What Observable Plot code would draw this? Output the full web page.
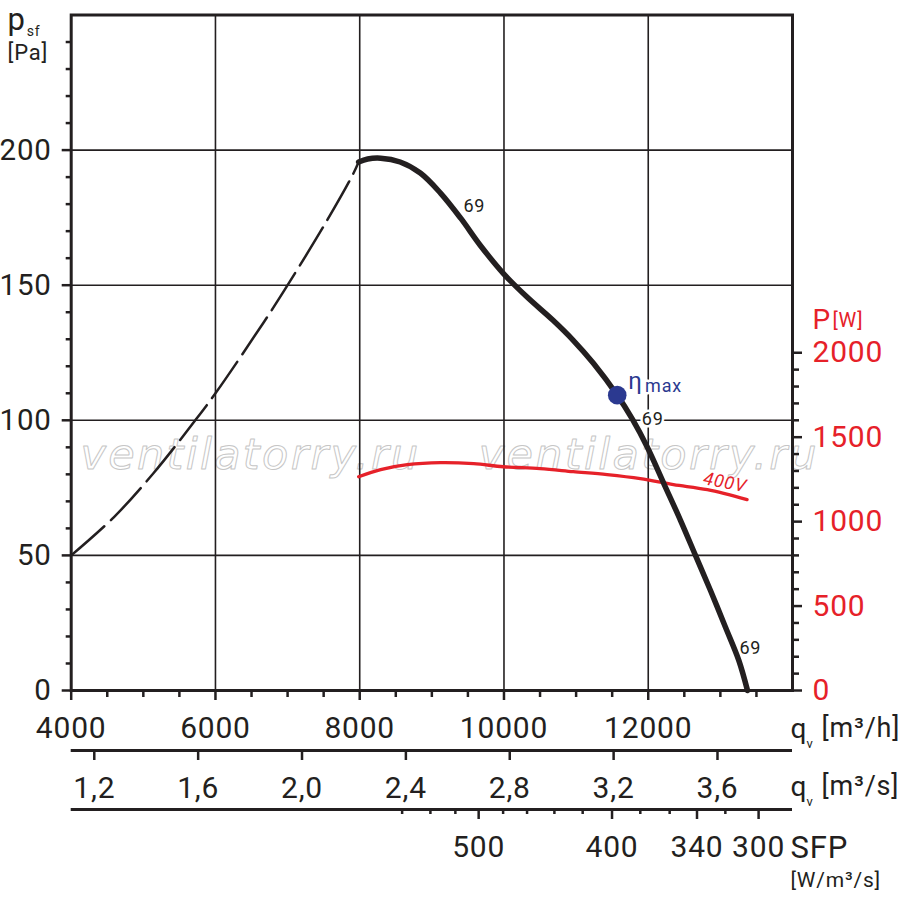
<!DOCTYPE html>
<html><head><meta charset="utf-8">
<script src="https://cdn.jsdelivr.net/npm/d3@7"></script>
<script src="https://cdn.jsdelivr.net/npm/@observablehq/plot@0.6"></script>
<style>
body{margin:0;background:#fff}
svg{display:block}
svg text{letter-spacing:0.8px}
</style>
</head><body><div id="chart"></div>
<script>
// ---- data ----
const qSolid = [7985, 8110, 8290, 8560, 8840, 9120, 9400, 9670, 9990, 10320, 10680, 10960, 11240, 11570, 11780, 11986, 12216, 12447, 12655, 12863, 13071, 13256, 13376];
const pSolid = [195.6, 196.7, 197.0, 195.6, 191.5, 184.1, 174.8, 164.8, 154.4, 145.6, 137.0, 129.6, 121.1, 109.3, 100.4, 90.1, 76.6, 63.0, 50.0, 37.0, 23.4, 11.1, 0];
const qDash = [4000, 4590, 5140, 5720, 6000, 6670, 7000, 7550, 7900, 7985];
const pDash = [50, 64.1, 80.4, 100, 110, 136.3, 150, 174.1, 190.7, 195.6];
const qPower = [7985, 8290, 8660, 9120, 9580, 9990, 10500, 10960, 11430, 11890, 12350, 12820, 13370];
const wPower = [1266, 1308, 1337, 1349, 1343, 1325, 1314, 1296, 1278, 1254, 1219, 1189, 1130];
const etaMax = {q: 11570, p: 109.3};
const curveLabels = [{q: 9589, p: 179.3, t: "69"}, {q: 12063, p: 100.4, t: "69"}, {q: 13415, p: 15.6, t: "69"}];
const watermarks = [{q: 4129, p: 82.0, t: "ventilatorry.ru"}, {q: 9651, p: 82.0, t: "ventilatorry.ru"}];

const qGrid = [6000, 8000, 10000, 12000];
const pGrid = [50, 100, 150, 200];
const qTicksMajor = [4000, 6000, 8000, 10000, 12000];
const qTicksMinor = [4500, 5000, 5500, 6500, 7000, 7500, 8500, 9000, 9500, 10500, 11000, 11500, 12500, 13000, 13500];
const pTicksMajor = [0, 50, 100, 150, 200];
const pTicksMinor = [10, 20, 30, 40, 60, 70, 80, 90, 110, 120, 130, 140, 160, 170, 180, 190, 210, 220, 230, 240];
const wTicksMajor = [0, 500, 1000, 1500, 2000];
const wTicksMinor = [100, 200, 300, 400, 600, 700, 800, 900, 1100, 1200, 1300, 1400, 1600, 1700, 1800, 1900];
const qsTicks = [1.2, 1.6, 2.0, 2.4, 2.8, 3.2, 3.6];
const qsLabels = ["1,2", "1,6", "2,0", "2,4", "2,8", "3,2", "3,6"];
const sfpValues = [560, 540, 520, 500, 480, 460, 440, 420, 400, 380, 360, 340, 320, 300];
const sfpQ = [8588, 8980, 9326, 9649, 9988, 10320, 10699, 11091, 11498, 11890, 12297, 12676, 13069, 13530];
const sfpLabelled = [500, 400, 340, 300];
const wPerPa = 16; // 2000 W on the right axis sits at 125 Pa on the left

// ---- build ----
const ink = "#231f20", red = "#e62129", blue = "#2b3990";
const solid = qSolid.map((q, i) => ({q, p: pSolid[i]}));
const dash = qDash.map((q, i) => ({q, p: pDash[i]}));
const power = qPower.map((q, i) => ({q, w: wPower[i]}));
const sfp = sfpValues.map((v, i) => ({v, q: sfpQ[i], major: sfpLabelled.includes(v)}));
const toMh = d => d * 3600;
const tk = () => "";

function title(t, o) {
  return Plot.text([t], {text: d => d, textAnchor: "start", lineAnchor: "bottom", fill: ink, ...o});
}

const chart = Plot.plot({
  width: 900, height: 908,
  marginLeft: 70.7, marginRight: 108, marginTop: 14.5, marginBottom: 218,
  style: {fontFamily: "Roboto, 'DejaVu Sans', sans-serif", background: "#fff", overflow: "visible"},
  x: {domain: [4000, 14000], label: null},
  y: {domain: [0, 250], label: null},
  marks: [
    Plot.text(watermarks, {x: "q", y: "p", text: "t", textAnchor: "start", lineAnchor: "bottom",
      fontSize: 43, fontStyle: "italic", fontFamily: "DejaVu Sans", fill: "none", stroke: "#c6c6c6", strokeWidth: 1}),
    Plot.gridX(qGrid, {stroke: ink, strokeOpacity: 1, strokeWidth: 1.6}),
    Plot.gridY(pGrid, {stroke: ink, strokeOpacity: 1, strokeWidth: 1.6}),
    Plot.frame({stroke: ink, strokeWidth: 3}),

    // main bottom axis ticks
    Plot.axisX(qTicksMajor, {anchor: "bottom", tickSize: 10, strokeWidth: 2.5, stroke: ink, tickFormat: tk, label: null}),
    Plot.axisX(qTicksMinor, {anchor: "bottom", tickSize: 7, strokeWidth: 2.5, stroke: ink, tickFormat: tk, label: null}),
    // left axis ticks
    Plot.axisY(pTicksMajor, {anchor: "left", tickSize: 9, strokeWidth: 2.5, stroke: ink, tickFormat: tk, label: null}),
    Plot.axisY(pTicksMinor, {anchor: "left", tickSize: 5, strokeWidth: 2.5, stroke: ink, tickFormat: tk, label: null}),
    // right axis ticks (W)
    Plot.axisY(wTicksMajor.map(w => w / wPerPa), {anchor: "right", tickSize: 9, strokeWidth: 2.5, stroke: ink, tickFormat: tk, label: null}),
    Plot.axisY(wTicksMinor.map(w => w / wPerPa), {anchor: "right", tickSize: 6, strokeWidth: 2.5, stroke: ink, tickFormat: tk, label: null}),

    // m3/s axis
    Plot.ruleY([0], {x1: 4000, x2: 14000, dy: 60, stroke: ink, strokeWidth: 3}),
    Plot.axisX(qsTicks.map(toMh), {anchor: "bottom", tickSize: 10, dy: 60, strokeWidth: 2.5, stroke: ink, tickFormat: tk, label: null}),
    // SFP axis
    Plot.ruleY([0], {x1: 4000, x2: 14000, dy: 119, stroke: ink, strokeWidth: 3}),
    Plot.axisX(sfp.filter(d => !d.major).map(d => d.q), {anchor: "bottom", tickSize: 5, dy: 119, strokeWidth: 2.5, stroke: ink, tickFormat: tk, label: null}),
    Plot.axisX(sfp.filter(d => d.major).map(d => d.q), {anchor: "bottom", tickSize: 10, dy: 119, strokeWidth: 2.5, stroke: ink, tickFormat: tk, label: null}),

    // tick labels
    Plot.text(qTicksMajor, {x: d => d, text: d => String(d), frameAnchor: "bottom", dy: 47.5, lineAnchor: "bottom", fontSize: 30, fill: ink}),
    Plot.text(pTicksMajor, {y: d => d, text: d => String(d), frameAnchor: "left", dx: -19.5, textAnchor: "end", lineAnchor: "middle", fontSize: 29.5, fill: ink, ariaLabel: "ylabels"}),
    Plot.text(wTicksMajor, {y: d => d / wPerPa, text: d => String(d), frameAnchor: "right", dx: 20, textAnchor: "start", lineAnchor: "middle", fontSize: 30, fill: red}),
    Plot.text(qsTicks, {x: toMh, text: (d, i) => qsLabels[i], frameAnchor: "bottom", dy: 107, lineAnchor: "bottom", fontSize: 30, fill: ink}),
    Plot.text(sfp.filter(d => d.major), {x: "q", text: d => String(d.v), frameAnchor: "bottom", dy: 166, lineAnchor: "bottom", fontSize: 30, fill: ink}),

    // axis titles
    title("p", {frameAnchor: "top-left", dx: -63.7, dy: 14.5, fontSize: 31}),
    title("sf", {frameAnchor: "top-left", dx: -44.5, dy: 20.5, fontSize: 14}),
    title("[Pa]", {frameAnchor: "top-left", dx: -63.7, dy: 44.5, fontSize: 22}),
    title("P", {frameAnchor: "top-right", dx: 20, dy: 313.5, fontSize: 28, fill: red}),
    title("[W]", {frameAnchor: "top-right", dx: 40, dy: 312, fontSize: 20, fill: red}),
    title("q", {frameAnchor: "bottom-right", dx: -2, dy: 47, fontSize: 28}),
    title("v", {frameAnchor: "bottom-right", dx: 14, dy: 57, fontSize: 13}),
    title("[m³/h]", {frameAnchor: "bottom-right", dx: 29, dy: 46, fontSize: 27}),
    title("q", {frameAnchor: "bottom-right", dx: -2, dy: 105, fontSize: 28}),
    title("v", {frameAnchor: "bottom-right", dx: 14, dy: 115, fontSize: 13}),
    title("[m³/s]", {frameAnchor: "bottom-right", dx: 29, dy: 104, fontSize: 27}),
    title("SFP", {frameAnchor: "bottom-right", dx: -2, dy: 167, fontSize: 31}),
    title("[W/m³/s]", {frameAnchor: "bottom-right", dx: -2, dy: 196, fontSize: 21}),

    // annotations (white halo breaks the grid lines, curves drawn on top)
    Plot.text(curveLabels, {x: "q", y: "p", text: "t", fontSize: 18, fill: ink, stroke: "#fff", strokeWidth: 5, paintOrder: "stroke"}),
    Plot.text([{q: 11724, p: 111.5}], {x: "q", y: "p", text: () => "η", textAnchor: "start", lineAnchor: "bottom", fontSize: 24, fill: blue, stroke: "#fff", strokeWidth: 5, paintOrder: "stroke"}),
    Plot.text([{q: 11956, p: 110.6}], {x: "q", y: "p", text: () => "max", textAnchor: "start", lineAnchor: "bottom", fontSize: 18, fill: blue, stroke: "#fff", strokeWidth: 5, paintOrder: "stroke"}),

    // curves
    Plot.line(dash, {x: "q", y: "p", stroke: ink, strokeWidth: 2.5, strokeDasharray: "44,9", curve: "catmull-rom"}),
    Plot.line(power, {x: "q", y: d => d.w / wPerPa, stroke: red, strokeWidth: 3.3, curve: "catmull-rom"}),
    Plot.line(solid, {x: "q", y: "p", stroke: ink, strokeWidth: 5.5, curve: "catmull-rom"}),
    Plot.dot([etaMax], {x: "q", y: "p", r: 9.3, fill: blue, stroke: "none"}),
    Plot.text([{q: 13065, p: 77.0}], {x: "q", y: "p", text: () => "400V", rotate: 11, fontSize: 18, fontStyle: "italic", fill: red})
  ]
});
d3.select(chart).selectAll("text").filter(function() { return this.textContent === "ventilatorry.ru"; })
  .style("letter-spacing", "2.3px");
d3.select(chart).selectAll('g[aria-label="ylabels"] text').style("letter-spacing", "0px");
document.getElementById("chart").appendChild(chart);
</script>
</body></html>
